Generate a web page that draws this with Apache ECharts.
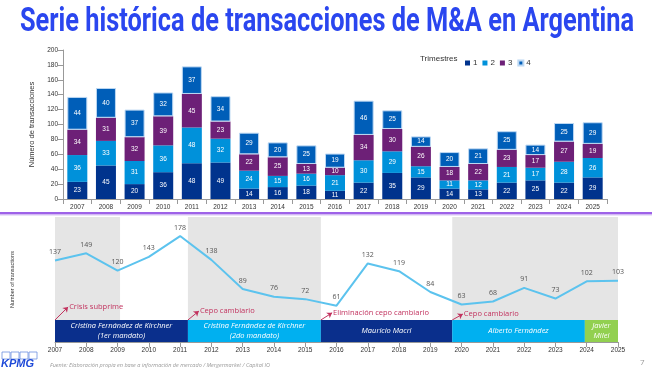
<!DOCTYPE html>
<html>
<head>
<meta charset="utf-8">
<script src="https://cdn.jsdelivr.net/npm/echarts@6/dist/echarts.min.js"></script>
<style>
  html, body { margin: 0; padding: 0; background: #fff; }
  #chart { width: 652px; height: 377px; }
</style>
</head>
<body>
<div id="chart"></div>
<script>
// datos
var years = ['2007','2008','2009','2010','2011','2012','2013','2014','2015','2016','2017','2018','2019','2020','2021','2022','2023','2024','2025'];
var q1 = [23, 45, 20, 36, 48, 49, 14, 16, 18, 11, 22, 35, 29, 14, 13, 22, 25, 22, 29];
var q2 = [36, 33, 31, 36, 48, 32, 24, 15, 16, 21, 30, 29, 15, 11, 12, 21, 17, 28, 26];
var q3 = [34, 31, 32, 39, 45, 23, 22, 25, 13, 10, 34, 30, 26, 18, 22, 23, 17, 27, 19];
var q4 = [44, 40, 37, 32, 37, 34, 29, 20, 25, 19, 46, 25, 14, 20, 21, 25, 14, 25, 29];
var totals = [137, 149, 120, 143, 178, 138, 89, 76, 72, 61, 132, 119, 84, 63, 68, 91, 73, 102, 103];

// periodos de gobierno [desde, hasta, nombre]
var governments = [
  [2007, 2011.25, 'Cristina Fernández de Kirchner\n(1er mandato)'],
  [2011.25, 2015.5, 'Cristina Fernández de Kirchner\n(2do mandato)'],
  [2015.5, 2019.7, 'Mauricio Macri'],
  [2019.7, 2023.94, 'Alberto Fernández'],
  [2023.94, 2025, 'Javier\nMilei']
];
var govColors = ['#0a2f8c', '#00b0f0', '#0a2f8c', '#00b0f0', '#92d050'];
var shaded = [[2007, 2009.08], [2011.25, 2015.5], [2019.7, 2025]];

// eventos: [x inicio, x fin flecha, y fin flecha, texto]
var events = [
  [2007, 2007.42, 59, 'Crisis subprime'],
  [2011.25, 2011.6, 52, 'Cepo cambiario'],
  [2015.5, 2015.86, 49, 'Eliminación cepo cambiario'],
  [2019.7, 2020.04, 47, 'Cepo cambiario']
];

var qColors = ['#00338d', '#0091da', '#6d2077', '#005eb8'];
var title = 'Serie histórica de transacciones de M&A en Argentina';

var cv = document.createElement('canvas').getContext('2d');
cv.font = 'bold 34px Roboto';
var titleScale = 614 / cv.measureText(title).width;

var chart = echarts.init(document.getElementById('chart'));

function barSeries(name, data, idx) {
  var s = {
    name: name,
    type: 'bar',
    stack: 'q',
    barWidth: 20,
    xAxisIndex: 0,
    yAxisIndex: 0,
    data: data,
    itemStyle: { color: qColors[idx] },
    label: { show: true, color: '#fff', fontSize: 6.5, fontFamily: 'Liberation Sans' }
  };
  if (idx === 3) {
    s.itemStyle.borderColor = '#bcd8f3';
    s.itemStyle.borderWidth = 1;
  }
  return s;
}

var option = {
  animation: false,
  textStyle: { fontFamily: 'Liberation Sans' },
  grid: [
    { left: 63, right: 45, top: 50, height: 149 },
    { left: 55, right: 34, top: 217, height: 125 }
  ],
  legend: {
    data: ['1', '2', '3', '4'],
    left: 460,
    top: 54,
    itemWidth: 5,
    itemHeight: 5,
    itemGap: 5,
    icon: 'rect',
    textStyle: { fontSize: 8, color: '#333', padding: [0, 0, 0, -2] }
  },
  xAxis: [
    {
      type: 'category',
      gridIndex: 0,
      data: years,
      axisLine: { lineStyle: { color: '#999' } },
      axisTick: { show: true, lineStyle: { color: '#999' } },
      axisLabel: { fontSize: 6.5, color: '#333', margin: 5 }
    },
    {
      type: 'value',
      gridIndex: 1,
      min: 2007,
      max: 2025,
      interval: 1,
      axisLine: { lineStyle: { color: '#999' } },
      axisTick: { show: true, lineStyle: { color: '#999' } },
      splitLine: { show: false },
      axisLabel: { fontSize: 6.5, color: '#333', margin: 5, formatter: function (v) { return String(v); } }
    }
  ],
  yAxis: [
    {
      type: 'value',
      gridIndex: 0,
      min: 0,
      max: 200,
      interval: 20,
      name: 'Número de transacciones',
      nameLocation: 'middle',
      nameRotate: 90,
      nameGap: 26,
      nameTextStyle: { fontSize: 7.5, color: '#333' },
      axisLine: { show: true, lineStyle: { color: '#999' } },
      axisTick: { show: true, lineStyle: { color: '#999' } },
      splitLine: { show: false },
      axisLabel: { fontSize: 6.5, color: '#333', margin: 5 }
    },
    {
      type: 'value',
      gridIndex: 1,
      min: 0,
      max: 210,
      name: 'Number of transactions',
      nameLocation: 'middle',
      nameRotate: 90,
      nameGap: 40,
      nameTextStyle: { fontSize: 5.5, color: '#333' },
      axisLine: { show: false },
      axisTick: { show: false },
      axisLabel: { show: false },
      splitLine: { show: false }
    }
  ],
  series: [
    barSeries('1', q1, 0),
    barSeries('2', q2, 1),
    barSeries('3', q3, 2),
    barSeries('4', q4, 3),
    {
      type: 'line',
      xAxisIndex: 1,
      yAxisIndex: 1,
      data: [],
      z: 1,
      markArea: {
        silent: true,
        itemStyle: { color: '#e5e5e5' },
        data: shaded.map(function (b) { return [{ xAxis: b[0] }, { xAxis: b[1] }]; })
      }
    },
    {
      type: 'line',
      xAxisIndex: 1,
      yAxisIndex: 1,
      data: [],
      z: 3,
      markArea: {
        silent: true,
        data: governments.map(function (g, i) {
          return [
            {
              coord: [g[0], 0],
              itemStyle: { color: govColors[i] },
              label: {
                show: true,
                position: 'inside',
                formatter: g[2],
                color: '#fff',
                fontSize: 7.5,
                fontStyle: 'italic',
                fontFamily: 'Open Sans',
                lineHeight: 10
              }
            },
            { coord: [g[1], 37] }
          ];
        })
      }
    },
    {
      type: 'line',
      xAxisIndex: 1,
      yAxisIndex: 1,
      data: [],
      z: 4,
      markLine: {
        silent: true,
        symbol: ['none', 'arrow'],
        symbolSize: 5,
        lineStyle: { color: '#c2325e', width: 1, type: 'solid' },
        label: { show: false },
        data: events.map(function (e) { return [{ coord: [e[0], 37] }, { coord: [e[1], e[2]] }]; })
      },
      markPoint: {
        silent: true,
        symbol: 'circle',
        symbolSize: 0,
        label: {
          show: true,
          position: 'right',
          distance: 1,
          color: '#c2325e',
          fontSize: 7.5,
          fontFamily: 'Open Sans'
        },
        data: events.map(function (e) { return { coord: [e[1], e[2]], value: e[3], label: { formatter: e[3] } }; })
      }
    },
    {
      type: 'line',
      xAxisIndex: 1,
      yAxisIndex: 1,
      z: 5,
      data: years.map(function (y, i) { return [Number(y), totals[i]]; }),
      symbol: 'circle',
      symbolSize: 2,
      showSymbol: true,
      showAllSymbol: true,
      itemStyle: { color: 'rgba(92,195,238,0)', borderWidth: 0 },
      lineStyle: { color: '#5cc3ee', width: 2 },
      labelLayout: { hideOverlap: false },
      label: {
        show: true,
        position: 'top',
        distance: 4,
        fontSize: 7,
        color: '#555',
        fontFamily: 'Open Sans',
        formatter: function (p) { return String(p.value[1]); }
      }
    }
  ],
  graphic: [
    {
      type: 'text',
      x: 20,
      y: 5,
      scaleX: titleScale,
      style: { text: title, font: 'bold 34px Roboto', fill: '#2a46ef' }
    },
    {
      type: 'text',
      x: 420,
      y: 55,
      style: { text: 'Trimestres', font: '8px Liberation Sans', fill: '#333' }
    },
    {
      type: 'rect',
      shape: { x: 0, y: 212, width: 652, height: 2.5 },
      style: { fill: '#9e62e8' }
    },
    {
      type: 'rect',
      shape: { x: 0, y: 214.5, width: 652, height: 1 },
      style: { fill: '#d8c4f5' }
    },
    { type: 'rect', shape: { x: 2, y: 352, width: 8, height: 7 }, style: { fill: 'none', stroke: '#6d8fe0', lineWidth: 0.8 } },
    { type: 'rect', shape: { x: 11, y: 352, width: 8, height: 7 }, style: { fill: 'none', stroke: '#6d8fe0', lineWidth: 0.8 } },
    { type: 'rect', shape: { x: 20, y: 352, width: 8, height: 7 }, style: { fill: 'none', stroke: '#6d8fe0', lineWidth: 0.8 } },
    { type: 'rect', shape: { x: 29, y: 352, width: 8, height: 7 }, style: { fill: 'none', stroke: '#6d8fe0', lineWidth: 0.8 } },
    {
      type: 'text',
      x: 1,
      y: 358,
      style: { text: 'KPMG', font: 'italic bold 11px Liberation Sans', fill: '#1e49d8' }
    },
    {
      type: 'text',
      x: 50,
      y: 362,
      style: {
        text: 'Fuente: Elaboración propia en base a información de mercado / Mergermarket / Capital IO',
        font: 'italic 5.5px Open Sans',
        fill: '#9a9a9a'
      }
    },
    {
      type: 'text',
      x: 640,
      y: 359,
      style: { text: '7', font: '8px Open Sans', fill: '#999' }
    }
  ]
};

chart.setOption(option);
</script>
</body>
</html>
